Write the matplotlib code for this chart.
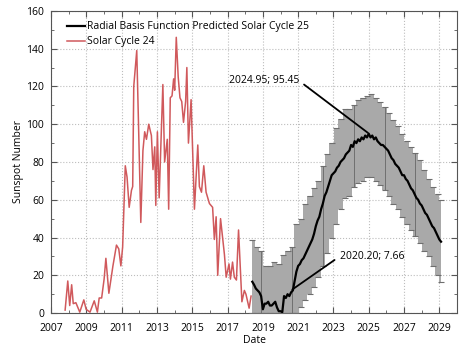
import numpy as np
import matplotlib
matplotlib.use("Agg")
import matplotlib.pyplot as plt
from matplotlib.ticker import MultipleLocator

plt.rcParams['font.family'] = ['Open Sans', 'DejaVu Sans']

# Solar cycle 24 (observed)
sc24_year = [2007.79, 2007.94, 2008.05, 2008.16, 2008.25, 2008.40, 2008.62, 2008.85, 2008.98, 2009.20,
             2009.44, 2009.62, 2009.72, 2009.86, 2010.00, 2010.10, 2010.27, 2010.50, 2010.70, 2010.83,
             2010.95, 2011.05, 2011.20, 2011.30, 2011.42, 2011.55, 2011.62, 2011.68, 2011.85, 2011.95,
             2012.08, 2012.20, 2012.30, 2012.40, 2012.53, 2012.68, 2012.77, 2012.87, 2012.93, 2013.02,
             2013.12, 2013.33, 2013.43, 2013.58, 2013.66, 2013.75, 2013.85, 2013.94, 2014.00, 2014.09,
             2014.20, 2014.30, 2014.40, 2014.50, 2014.62, 2014.69, 2014.78, 2014.93, 2015.12, 2015.31,
             2015.40, 2015.52, 2015.65, 2015.78, 2015.97, 2016.15, 2016.25, 2016.35, 2016.44, 2016.60,
             2016.82, 2016.92, 2017.08, 2017.16, 2017.28, 2017.38, 2017.50, 2017.62, 2017.81, 2017.95,
             2018.04, 2018.22, 2018.33]
sc24_ssn = [1.6, 17, 4, 15, 5, 5.5, 0.5, 7, 2, 0.5,
            6.5, 0.5, 8, 8, 18, 29, 10.5, 25, 36, 34,
            25, 35, 78, 72, 56, 65, 67, 120, 139, 100,
            48, 86, 96, 92, 100, 94, 76, 88, 57, 96,
            61, 121, 80, 92, 55, 114, 115, 124, 118, 146,
            125, 114, 112, 101, 112, 130, 90, 113, 55, 89,
            67, 64, 78, 64, 58, 56, 39, 51, 20, 50,
            31, 19, 26, 18, 27, 19, 17.5, 44, 6, 12,
            10, 2.6, 9]

# RBF predicted cycle 25
pred_year = [2018.4, 2018.5, 2018.6, 2018.7, 2018.8, 2018.9, 2019.0, 2019.1, 2019.2, 2019.3,
             2019.4, 2019.5, 2019.6, 2019.7, 2019.8, 2019.9, 2020.0, 2020.1, 2020.2, 2020.3,
             2020.4, 2020.5, 2020.6, 2020.7, 2020.8, 2020.9, 2021.0, 2021.1, 2021.2, 2021.3,
             2021.4, 2021.5, 2021.6, 2021.7, 2021.8, 2021.9, 2022.0, 2022.1, 2022.2, 2022.3,
             2022.4, 2022.5, 2022.6, 2022.7, 2022.8, 2022.9, 2023.0, 2023.1, 2023.2, 2023.3,
             2023.4, 2023.5, 2023.6, 2023.7, 2023.8, 2023.9, 2024.0, 2024.1, 2024.2, 2024.3,
             2024.4, 2024.5, 2024.6, 2024.7, 2024.8, 2024.9, 2025.0, 2025.1, 2025.2, 2025.3,
             2025.4, 2025.5, 2025.6, 2025.7, 2025.8, 2025.9, 2026.0, 2026.1, 2026.2, 2026.3,
             2026.4, 2026.5, 2026.6, 2026.7, 2026.8, 2026.9, 2027.0, 2027.1, 2027.2, 2027.3,
             2027.4, 2027.5, 2027.6, 2027.7, 2027.8, 2027.9, 2028.0, 2028.1, 2028.2, 2028.3,
             2028.4, 2028.5, 2028.6, 2028.7, 2028.8, 2028.9, 2029.0, 2029.1]
pred_ssn = [16.6, 15, 13, 12, 11, 9, 2, 5, 5, 6,
            4, 4, 5, 6, 3, 1, 1, 0.5, 9, 8,
            10, 9, 11, 12, 17, 22, 25, 26, 28, 29,
            31, 33, 35, 37, 39, 42, 46, 49, 51, 55,
            58, 62, 64, 67, 70, 73, 74, 75, 77, 78,
            80, 81, 82, 84, 85, 86, 89, 88, 91, 90,
            92, 91, 93, 92, 94, 93, 95, 93, 94, 92,
            93, 91, 90, 89, 89, 88, 87, 86, 84, 82,
            81, 79, 78, 77, 75, 73, 73, 71, 70, 68,
            66, 65, 63, 61, 60, 58, 57, 55, 53, 52,
            50, 48, 46, 45, 43, 41, 39, 37.8]

# error band
band_year = [2018.40, 2018.65, 2018.90, 2019.15, 2019.40, 2019.65, 2019.90, 2020.15, 2020.40, 2020.65,
             2020.90, 2021.15, 2021.40, 2021.65, 2021.90, 2022.15, 2022.40, 2022.65, 2022.90, 2023.15,
             2023.40, 2023.65, 2023.90, 2024.15, 2024.40, 2024.65, 2024.90, 2025.15, 2025.40, 2025.65,
             2025.90, 2026.15, 2026.40, 2026.65, 2026.90, 2027.15, 2027.40, 2027.65, 2027.90, 2028.15,
             2028.40, 2028.65, 2028.90, 2029.10]
band_upper = [38.6, 35, 33, 25, 25, 27, 26, 31, 33, 35,
              47, 50, 58, 62, 66, 70, 78, 84, 90, 98,
              103, 108, 108, 110, 113, 114, 115, 116, 114, 112,
              109, 106, 102, 99, 95, 91, 88, 85, 81, 76,
              71, 67, 63, 60]
band_lower = [0, 0, 0, 0, 0, 0, 0, 0, 0, 0,
              0, 3, 7, 10, 14, 19, 25, 32, 40, 47,
              55, 61, 62, 67, 69, 70, 72, 72, 70, 68,
              65, 62, 58, 55, 51, 47, 44, 41, 37, 33,
              30, 25, 20, 16.6]

fig = plt.figure(figsize=(4.74, 3.51), dpi=100)
ax = fig.add_axes([0.108, 0.108, 0.856, 0.861])

bx = np.array(band_year)
bu = np.array(band_upper)
bl = np.array(band_lower)
ax.fill_between(bx, bl, bu, step="mid", color="#a9a9a9", lw=0, zorder=2)
ax.plot(bx, bu, ls="none", marker="_", ms=4, mew=0.8, color="#6e6e6e", zorder=3)
ax.plot(bx, bl, ls="none", marker="_", ms=4, mew=0.8, color="#6e6e6e", zorder=3)
sub = slice(2, None, 7)
ax.vlines(bx[sub], bl[sub], bu[sub], color="#707070", lw=0.7, zorder=3)

ax.plot(sc24_year, sc24_ssn, color="#d0595c", lw=1.1, zorder=2, label="Solar Cycle 24")
ax.plot(pred_year, pred_ssn, color="black", lw=1.6, zorder=4,
        label="Radial Basis Function Predicted Solar Cycle 25")

ax.annotate("2024.95; 95.45", xy=(2024.95, 95.45), xytext=(2021.05, 123),
            ha="right", va="center", fontsize=7.5,
            arrowprops=dict(arrowstyle="-", color="black", lw=1.3, relpos=(1, 0.5),
                            shrinkA=2, shrinkB=0), zorder=5)
ax.annotate("2020.20; 7.66", xy=(2020.67, 12.5), xytext=(2023.35, 30),
            ha="left", va="center", fontsize=7.5,
            arrowprops=dict(arrowstyle="-", color="black", lw=1.3, relpos=(0, 0.5),
                            shrinkA=2, shrinkB=0), zorder=5)

ax.set_xlim(2007, 2030)
ax.set_ylim(0, 160)
ax.set_xticks(range(2007, 2030, 2))
ax.xaxis.set_minor_locator(MultipleLocator(1))
ax.yaxis.set_major_locator(MultipleLocator(20))
ax.yaxis.set_minor_locator(MultipleLocator(10))
ax.tick_params(which="both", direction="in", top=True, right=True, labelsize=7.5, color="#555555")
ax.tick_params(which="major", length=4)
ax.tick_params(which="minor", length=2.5)
ax.tick_params(axis="x", which="major", pad=7)
ax.tick_params(axis="y", which="major", pad=5)
ax.grid(True, which="major", ls=":", color="#bdbdbd", lw=0.8)
for s in ax.spines.values():
    s.set_color("#555555")

ax.set_xlabel("Date", fontsize=7.5, labelpad=1)
ax.set_ylabel("Sunspot Number", fontsize=7.5, labelpad=2)

h, l = ax.get_legend_handles_labels()
ax.legend(h[::-1], l[::-1], loc="upper left", frameon=False, fontsize=7.5,
          handlelength=1.8, handletextpad=0.2, borderaxespad=0.3, labelspacing=0.4,
          bbox_to_anchor=(0.02, 0.99))

fig.savefig("out.png", dpi=100)
